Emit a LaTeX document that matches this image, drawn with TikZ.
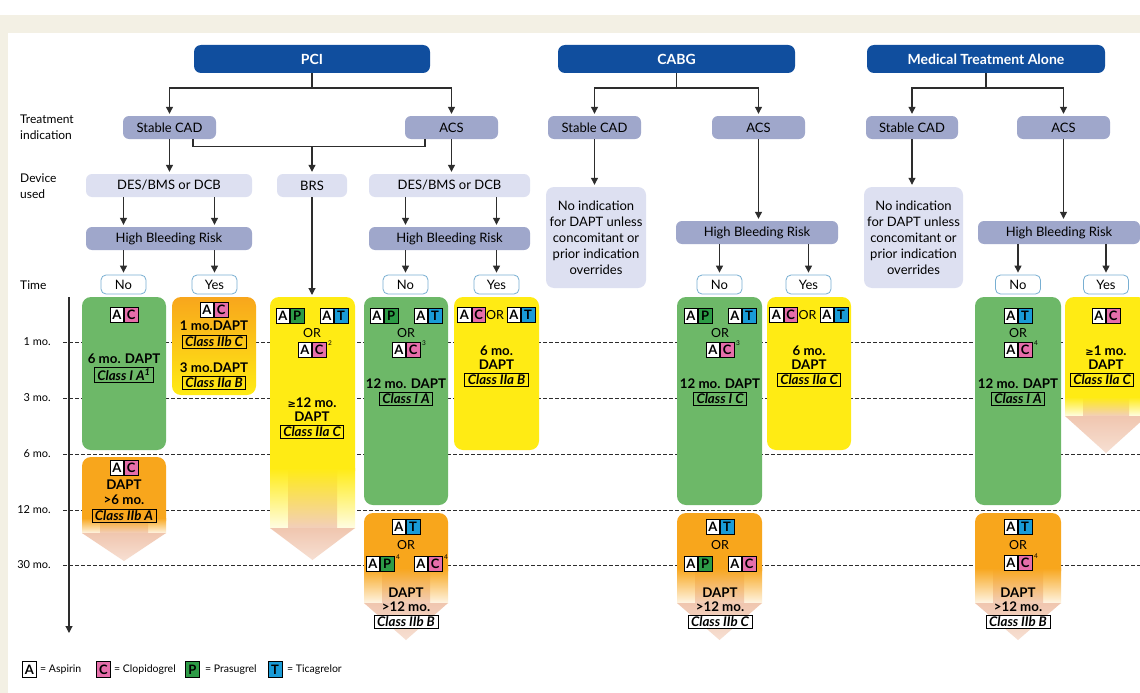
\documentclass[tikz,border=0pt]{standalone}
\usepackage{fontspec}
\setmainfont{Lato}
\newfontfamily\dvfont{DejaVu Sans}
\usetikzlibrary{arrows.meta}
\definecolor{dblue}{RGB}{16,78,158}
\definecolor{gr}{RGB}{109,184,104}
\definecolor{orng}{RGB}{248,166,28}
\definecolor{yel}{RGB}{255,235,20}
\definecolor{pinkc}{RGB}{230,110,170}
\definecolor{greenp}{RGB}{45,155,70}
\definecolor{bluet}{RGB}{25,155,215}
\definecolor{lav}{RGB}{159,167,203}
\definecolor{llav}{RGB}{221,224,241}
\definecolor{beige}{RGB}{243,240,228}
\definecolor{ynb}{RGB}{120,175,210}
\definecolor{salmon}{RGB}{240,198,175}
\definecolor{lnc}{RGB}{45,45,45}
\newcommand{\geqs}{{\dvfont\bfseries\fontsize{10}{10}\selectfont ≥}}
\newcommand{\duo}[5]{%
  \node[cellst,fill=white,anchor=east] (#1a) at (#2,#3) {A};
  \node[cellst,fill=#5,anchor=west] (#1b) at (#2,#3) {#4};}
\newcommand{\fadecol}[7]{%
  \fill[#7, rounded corners=9pt] (#1,#3) rectangle (#2,#4+12);
  \shade[top color=#7, bottom color=#7!12!white] (#1,#4) rectangle (#2,#5);
  \shade[top color=#7, bottom color=salmon!85!white] (#1+18,#4) rectangle (#2-18,#5);
  \shade[top color=salmon, bottom color=salmon!55!white] (#1,#5) -- (#2,#5) -- ({(#1+#2)/2},#6) -- cycle;}
\begin{document}
\begin{tikzpicture}[x=1pt,y=-1pt,
 ln/.style={draw=lnc, line width=1.1pt},
 arr/.style={ln, -{Triangle[length=7pt,width=7pt]}, shorten >=2pt},
 hdr/.style={fill=dblue, rounded corners=7pt, text=white, font=\bfseries\fontsize{14}{16}\selectfont, minimum height=28pt, inner sep=0pt},
 ind/.style={fill=lav, rounded corners=6pt, minimum height=23pt, inner sep=0pt, font=\fontsize{13}{15}\selectfont},
 dev/.style={ind, fill=llav},
 noind/.style={fill=llav, rounded corners=8pt, inner sep=0pt, align=center, font=\fontsize{13}{16}\selectfont},
 yn/.style={draw=ynb, fill=white, rounded corners=5pt, minimum width=45pt, minimum height=19pt, line width=0.8pt, inner sep=0pt, font=\fontsize{13}{15}\selectfont},
 lbl/.style={anchor=west, align=left, font=\fontsize{12}{16}\selectfont, inner sep=0pt},
 tml/.style={anchor=east, font=\fontsize{11}{12}\selectfont, inner sep=0pt},
 bt/.style={font=\bfseries\fontsize{13.3}{15}\selectfont, inner sep=0pt},
 ort/.style={font=\fontsize{12.5}{13}\selectfont, inner sep=0pt},
 cls/.style={draw=black, line width=0.7pt, font=\bfseries\itshape\fontsize{13.3}{15}\selectfont, inner xsep=3pt, inner ysep=1.2pt},
 cellst/.style={draw=black, line width=0.7pt, minimum width=13.5pt, minimum height=15pt, inner sep=0pt, font=\bfseries\fontsize{13}{13}\selectfont},
 supst/.style={font=\fontsize{6.5}{6.5}\selectfont, inner sep=0pt},
 box/.style={rounded corners=9pt, inner sep=0pt},
 dsh/.style={draw=lnc, line width=0.9pt, dash pattern=on 3.5pt off 2.5pt},
 leg/.style={anchor=west, font=\fontsize{10.5}{12}\selectfont, inner sep=0pt}
]
\useasboundingbox (0,0) rectangle (1140,693);
\clip (0,0) rectangle (1140,693);
% background
\fill[white] (0,0) rectangle (1140,693);
\fill[beige] (0,15) rectangle (1140,33);
\fill[beige] (0,33) rectangle (8,693);

% side labels
\node[lbl] (lt) at (20,127) {Treatment\\indication};
\node[lbl] (ld) at (20,186) {Device\\used};
\node[lbl] (ltime) at (20,285) {Time};

% time axis
\foreach \yy/\tt in {342/1 mo.,398/3 mo.,454/6 mo.,510/12 mo.,565/30 mo.}{
  \draw[dsh] (63,\yy) -- (1140,\yy);
  \node[tml] (tm\yy) at (51,\yy) {\tt};
}
\coordinate (ax0) at (69,297);
\coordinate (ax1) at (69,633);
\draw[ln, -{Triangle[length=7pt,width=7pt]}] (ax0) -- (ax1);

% headers
\node[hdr, minimum width=236pt] (pci) at (312,59) {PCI};
\node[hdr, minimum width=237pt] (cabg) at (676.5,59) {CABG};
\node[hdr, minimum width=238pt] (med) at (986,59) {Medical Treatment Alone};

% indications
\node[ind, minimum width=93pt] (pstab) at (169.5,127.5) {Stable CAD};
\node[ind, minimum width=93pt] (pacs) at (451.5,127.5) {ACS};
\node[ind, minimum width=93pt] (cstab) at (594.5,127.5) {Stable CAD};
\node[ind, minimum width=93pt] (cacs) at (758.5,127.5) {ACS};
\node[ind, minimum width=92pt] (mstab) at (912,127.5) {Stable CAD};
\node[ind, minimum width=93pt] (macs) at (1063.5,127.5) {ACS};

% devices
\node[dev, minimum width=166pt] (pdes1) at (169,185.5) {DES/BMS or DCB};
\node[dev, minimum width=70pt] (pbrs) at (312,185.5) {BRS};
\node[dev, minimum width=161pt] (pdes2) at (449.5,185.5) {DES/BMS or DCB};

% HBR
\node[ind, minimum width=166pt] (phbr1) at (169,238.5) {High Bleeding Risk};
\node[ind, minimum width=161pt] (phbr2) at (449.5,238.5) {High Bleeding Risk};
\node[ind, minimum width=162pt] (chbr) at (757,232.5) {High Bleeding Risk};
\node[ind, minimum width=162pt] (mhbr) at (1059,232.5) {High Bleeding Risk};

% no indication
\node[noind, minimum width=100pt, minimum height=101pt] (cnoind) at (596,237.5) {No indication\\for DAPT unless\\concomitant or\\prior indication\\overrides};
\node[noind, minimum width=99pt, minimum height=101pt] (mnoind) at (913.5,237.5) {No indication\\for DAPT unless\\concomitant or\\prior indication\\overrides};

% yes/no
\node[yn] (pno1) at (123.5,284.5) {No};
\node[yn] (pyes1) at (214.5,284.5) {Yes};
\node[yn] (pno2) at (405.5,284.5) {No};
\node[yn] (pyes2) at (496.5,284.5) {Yes};
\node[yn] (cno) at (719.5,284.5) {No};
\node[yn] (cyes) at (808.5,284.5) {Yes};
\node[yn] (mno) at (1018,284.5) {No};
\node[yn] (myes) at (1106,284.5) {Yes};

% connectors PCI
\coordinate (pj) at (312,88);
\draw[ln] (pci.south) -- (pj);
\draw[arr] (pj) -| (pstab.north);
\draw[arr] (pj) -| (pacs.north);
\draw[arr] (pstab.south) -- (pstab.south |- pdes1.north);
\draw[ln] ([xshift=23.5pt]pstab.south) -- ++(0,7) -| ([xshift=-26.5pt]pacs.south);
\coordinate (bj) at (312,146);
\draw[arr] (bj) -- (pbrs.north);
\draw[arr] (pacs.south) -- (pacs.south |- pdes2.north);
\draw[arr] (pdes1.south -| pno1.north) -- (phbr1.north -| pno1.north);
\draw[arr] (pdes1.south -| pyes1.north) -- (phbr1.north -| pyes1.north);
\draw[arr] (phbr1.south -| pno1.north) -- (pno1.north);
\draw[arr] (phbr1.south -| pyes1.north) -- (pyes1.north);
\draw[arr] (pdes2.south -| pno2.north) -- (phbr2.north -| pno2.north);
\draw[arr] (pdes2.south -| pyes2.north) -- (phbr2.north -| pyes2.north);
\draw[arr] (phbr2.south -| pno2.north) -- (pno2.north);
\draw[arr] (phbr2.south -| pyes2.north) -- (pyes2.north);
\coordinate (brstop) at (312,297);
\draw[arr] (pbrs.south) -- (brstop);

% connectors CABG
\coordinate (cj) at (676.5,88);
\draw[ln] (cabg.south) -- (cj);
\draw[arr] (cj) -| (cstab.north);
\draw[arr] (cj) -| (cacs.north);
\draw[arr] (cstab.south) -- (cstab.south |- cnoind.north);
\draw[arr] (cacs.south) -- (cacs.south |- chbr.north);
\draw[arr] (chbr.south -| cno.north) -- (cno.north);
\draw[arr] (chbr.south -| cyes.north) -- (cyes.north);

% connectors Medical
\coordinate (mj) at (986,88);
\draw[ln] (med.south) -- (mj);
\draw[arr] (mj) -| (mstab.north);
\draw[arr] (mj) -| (macs.north);
\draw[arr] (mstab.south) -- (mstab.south |- mnoind.north);
\draw[arr] (macs.south) -- (macs.south |- mhbr.north);
\draw[arr] (mhbr.south -| mno.north) -- (mno.north);
\draw[arr] (mhbr.south -| myes.north) -- (myes.north);

% ---- coloured boxes ----
\node[box, fill=gr, minimum width=84pt, minimum height=153pt] (g1) at (124,373.5) {};
\node[box, top color=orng, bottom color=yel, minimum width=84pt, minimum height=98pt] (oy1) at (214,346) {};
\node[box, fill=gr, minimum width=84pt, minimum height=208pt] (g2) at (406,401) {};
\node[box, fill=yel, minimum width=85pt, minimum height=153pt] (y2) at (496.5,373.5) {};
\node[box, fill=gr, minimum width=85pt, minimum height=208pt] (g3) at (719.5,401) {};
\node[box, fill=yel, minimum width=84pt, minimum height=153pt] (y3) at (809,373.5) {};
\node[box, fill=gr, minimum width=86pt, minimum height=208pt] (g4) at (1018,401) {};
\fadecol{82}{166}{457}{518}{533}{561}{orng}
\fadecol{270}{355}{297}{468}{528}{560}{yel}
\fadecol{364}{448}{513}{568}{603}{640}{orng}
\fadecol{677}{762}{513}{568}{603}{640}{orng}
\fadecol{975}{1061}{513}{568}{603}{640}{orng}
\fadecol{1065}{1147}{297}{397}{416}{453}{yel}

% g1
\duo{ag1}{124}{315}{C}{pinkc}
\node[bt] (tg1a) at (124,359) {6 mo. DAPT};
\node[cls] (cg1) at (124,375) {Class I A\textsuperscript{1}};
% o1
\duo{ao1}{124}{468}{C}{pinkc}
\node[bt] (to1a) at (124,485) {DAPT};
\node[bt] (to1b) at (124,500) {>6 mo.};
\node[cls] (co1) at (124,516) {Class IIb A};
% oy1
\duo{aoy1}{214}{310}{C}{pinkc}
\node[bt] (toy1a) at (214,326) {1 mo.DAPT};
\node[cls] (coy1a) at (214,342) {Class IIb C};
\node[bt] (toy1b) at (214,368) {3 mo.DAPT};
\node[cls] (coy1b) at (214,383) {Class IIa B};
% BRS
\duo{ab1}{290}{316}{P}{greenp}
\duo{ab2}{334}{316}{T}{bluet}
\node[ort] (orb) at (312,333) {OR};
\duo{ab3}{312}{350}{C}{pinkc}
\node[supst] (sb) at (330,343) {2};
\node[bt] (tba) at (312,403) {\geqs12 mo.};
\node[bt] (tbb) at (312,417) {DAPT};
\node[cls] (cb) at (312,432) {Class IIa C};
% g2
\duo{ag2a}{384}{316}{P}{greenp}
\duo{ag2b}{428}{316}{T}{bluet}
\node[ort] (org2) at (406,333) {OR};
\duo{ag2c}{406}{350}{C}{pinkc}
\node[supst] (sg2) at (424,343) {3};
\node[bt] (tg2) at (406,384) {12 mo. DAPT};
\node[cls] (cg2) at (406,399) {Class I A};
% o2
\duo{ao2a}{406}{527}{T}{bluet}
\node[ort] (oro2) at (406,545) {OR};
\duo{ao2b}{380}{564}{P}{greenp}
\node[supst] (so2a) at (398,557) {4};
\duo{ao2c}{428}{564}{C}{pinkc}
\node[supst] (so2b) at (446,557) {4};
\node[bt] (to2a) at (406,593) {DAPT};
\node[bt] (to2b) at (406,607) {>12 mo.};
\node[cls, fill=white] (co2) at (406,622) {Class IIb B};
% y2
\duo{ay2a}{471.5}{315}{C}{pinkc}
\node[ort] (ory2) at (495,315) {OR};
\duo{ay2b}{521}{315}{T}{bluet}
\node[bt] (ty2a) at (496.5,351) {6 mo.};
\node[bt] (ty2b) at (496.5,365) {DAPT};
\node[cls] (cy2) at (496.5,380) {Class IIa B};
% g3
\duo{ag3a}{698}{316}{P}{greenp}
\duo{ag3b}{742}{316}{T}{bluet}
\node[ort] (org3) at (720,333) {OR};
\duo{ag3c}{720}{350}{C}{pinkc}
\node[supst] (sg3) at (738,343) {3};
\node[bt] (tg3) at (720,384) {12 mo. DAPT};
\node[cls] (cg3) at (720,399) {Class I C};
% o3
\duo{ao3a}{720}{527}{T}{bluet}
\node[ort] (oro3) at (720,545) {OR};
\duo{ao3b}{698}{564}{P}{greenp}
\duo{ao3c}{742}{564}{C}{pinkc}
\node[bt] (to3a) at (720,593) {DAPT};
\node[bt] (to3b) at (720,607) {>12 mo.};
\node[cls, fill=white] (co3) at (720,622) {Class IIb C};
% y3
\duo{ay3a}{783.5}{315}{C}{pinkc}
\node[ort] (ory3) at (807.5,315) {OR};
\duo{ay3b}{834}{315}{T}{bluet}
\node[bt] (ty3a) at (809,351) {6 mo.};
\node[bt] (ty3b) at (809,365) {DAPT};
\node[cls] (cy3) at (809,380) {Class IIa C};
% g4
\duo{ag4a}{1018}{316}{T}{bluet}
\node[ort] (org4) at (1018,333) {OR};
\duo{ag4b}{1018}{350}{C}{pinkc}
\node[supst] (sg4) at (1036,343) {4};
\node[bt] (tg4) at (1018,384) {12 mo. DAPT};
\node[cls] (cg4) at (1018,399) {Class I A};
% o4
\duo{ao4a}{1018}{527}{T}{bluet}
\node[ort] (oro4) at (1018,545) {OR};
\duo{ao4b}{1018}{563}{C}{pinkc}
\node[supst] (so4) at (1036,556) {4};
\node[bt] (to4a) at (1018,593) {DAPT};
\node[bt] (to4b) at (1018,607) {>12 mo.};
\node[cls, fill=white] (co4) at (1018,622) {Class IIb B};
% y4
\duo{ay4}{1106}{316}{C}{pinkc}
\node[bt] (ty4a) at (1106,351) {\geqs1 mo.};
\node[bt] (ty4b) at (1106,365) {DAPT};
\node[cls] (cy4) at (1102,380) {Class IIa C};

% legend
\node[cellst, fill=white, minimum width=14pt, minimum height=16pt] (la) at (29.5,669.5) {A};
\node[leg] (lat) at (40,669.5) {= Aspirin};
\node[cellst, fill=pinkc, minimum width=14pt, minimum height=16pt] (lc) at (103.5,669.5) {C};
\node[leg] (lct) at (114,669.5) {= Clopidogrel};
\node[cellst, fill=greenp, minimum width=14pt, minimum height=16pt] (lp) at (192.5,669.5) {P};
\node[leg] (lpt) at (205,669.5) {= Prasugrel};
\node[cellst, fill=bluet, minimum width=14pt, minimum height=16pt] (ltc) at (275,669.5) {T};
\node[leg] (ltt) at (287,669.5) {= Ticagrelor};
\end{tikzpicture}
\end{document}
